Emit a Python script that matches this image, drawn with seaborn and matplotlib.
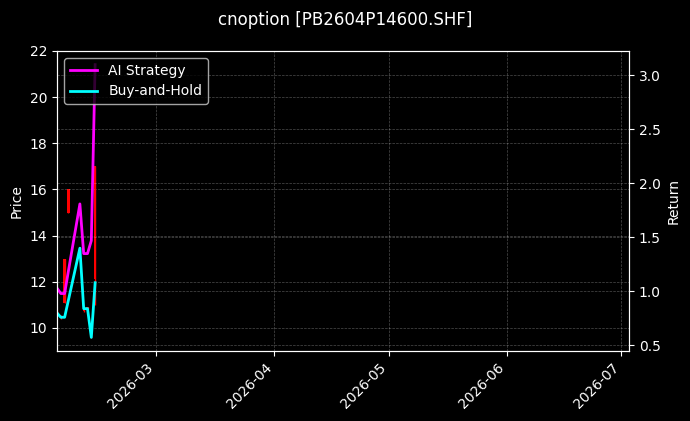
import matplotlib
matplotlib.use("Agg")
import numpy as np
import pandas as pd
import matplotlib.pyplot as plt
import matplotlib.dates as mdates
import seaborn as sns

# trading days shown
dates = ["2026-02-03", "2026-02-04", "2026-02-05", "2026-02-06", "2026-02-09",
         "2026-02-10", "2026-02-11", "2026-02-12", "2026-02-13"]

# option price bars
open_px = [10.65, 10.45, 11.1, 15.0, 13.40, 10.75, 10.85, 9.60, 12.1]
high_px = [10.75, 10.55, 13.0, 16.0, 13.50, 10.90, 10.90, 9.65, 17.0]
low_px = [10.60, 10.40, 11.1, 15.0, 13.35, 10.70, 10.80, 9.57, 11.0]
close_px = [10.70, 10.50, 13.0, 16.0, 13.45, 10.85, 10.90, 9.62, 17.0]

# cumulative returns
ai_return = [1.03, 0.98, 0.98, 1.19, 1.81, 1.35, 1.35, 1.47, 3.10]
bh_return = [0.80, 0.76, 0.76, 0.92, 1.40, 0.84, 0.84, 0.574, 1.08]

title = "cnoption [PB2604P14600.SHF]"

df = pd.DataFrame({
    "date": pd.to_datetime(dates),
    "open": open_px, "high": high_px, "low": low_px, "close": close_px,
    "ai": ai_return, "bh": bh_return,
})

plt.style.use("dark_background")
fig = plt.figure(figsize=(6.9, 4.21), dpi=100)
ax = fig.add_axes([57 / 690, 1 - 351 / 421, (629 - 57) / 690, 300 / 421])

# candles
body_lo = np.minimum(df["open"], df["close"])
body_h = np.abs(df["close"] - df["open"])
ax.vlines(df["date"], df["low"], df["high"], color="red", linewidth=1)
ax.bar(df["date"], body_h, bottom=body_lo, width=0.6, color="red")
ax.set_ylim(9, 22)
ax.set_ylabel("Price")
ax.grid(True, linestyle="--", linewidth=0.5, alpha=0.3)

ax2 = ax.twinx()
sns.lineplot(data=df, x="date", y="ai", ax=ax2, color="#ff00ff", linewidth=2, label="AI Strategy")
sns.lineplot(data=df, x="date", y="bh", ax=ax2, color="#00ffff", linewidth=2, label="Buy-and-Hold")
ax2.set_ylabel("Return")
ax2.set_xlabel("")
ax.set_xlabel("")
ax2.grid(True, linestyle="--", linewidth=0.5, alpha=0.3)
ax2.legend(loc="upper left")

start = df["date"].iloc[0]
ax.set_xlim(start, start + pd.Timedelta(days=150))
ax.xaxis.set_major_locator(mdates.MonthLocator())
ax.xaxis.set_major_formatter(mdates.DateFormatter("%Y-%m"))
for lbl in ax.get_xticklabels():
    lbl.set_rotation(45)
    lbl.set_ha("right")

fig.suptitle(title, fontsize=12, y=0.975)
fig.savefig("out.png", dpi=100)
